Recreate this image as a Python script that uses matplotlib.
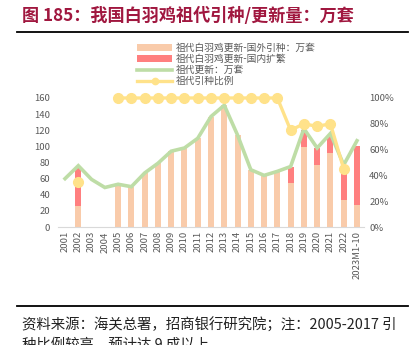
import numpy as np
import matplotlib.pyplot as plt
from matplotlib.lines import Line2D

plt.rcParams['font.family'] = ['Noto Sans CJK SC', 'DejaVu Sans']

# categories and series (万套)
years = ['2001', '2002', '2003', '2004', '2005', '2006', '2007', '2008', '2009',
         '2010', '2011', '2012', '2013', '2014', '2015', '2016', '2017', '2018',
         '2019', '2020', '2021', '2022', '2023M1-10']
imported = [0, 26, 0, 0, 51, 50, 67, 79, 94, 98, 110, 137, 151, 114, 71, 64,
            69, 55, 99, 77, 92, 34, 27]
domestic = [0, 48, 0, 0, 0, 0, 0, 0, 0, 0, 0, 0, 0, 0, 0, 0,
            0, 20, 21, 21, 21, 40, 73]
total = [60, 76, 59, 49, 53, 50, 67, 79, 94, 98, 110, 137, 151, 114, 71, 64,
         69, 75, 122, 98, 116, 77, 107]
ratio = [np.nan, 0.35, np.nan, np.nan, 1, 1, 1, 1, 1, 1, 1, 1, 1, 1, 1, 1,
         1, 0.75, 0.80, 0.78, 0.80, 0.45, np.nan]

c_imp = '#F9CBAA'
c_dom = '#FF7F7F'
c_tot = '#BEDDA6'
c_rat = '#FFE28A'
grey = '#595959'

fig = plt.figure(figsize=(4.19, 3.45), dpi=100)

# title and rules
fig.text(0.052, 0.953, '图 185：我国白羽鸡祖代引种/更新量：万套', color='#A0173F',
         fontsize=12.3, fontweight='bold', va='center', ha='left')
fig.add_artist(Line2D([0.041, 0.974], [0.907, 0.907], color='black', lw=1.3))
fig.add_artist(Line2D([0.041, 0.974], [0.112, 0.112], color='black', lw=1.3))
fig.text(0.052, 0.058, '资料来源：海关总署，招商银行研究院；注：2005-2017 引',
         fontsize=10.4, va='center', ha='left', color='#222222')
fig.text(0.052, 0.0, '种比例较高，预计达 9 成以上', fontsize=10.4, va='center',
         ha='left', color='#222222')

ax = fig.add_axes([0.1394, 0.342, 0.7284, 0.374])
x = np.arange(len(years))
w = 0.45
b1 = ax.bar(x, imported, width=w, color=c_imp, zorder=2)
b2 = ax.bar(x, domestic, width=w, bottom=imported, color=c_dom, zorder=2)
l1, = ax.plot(x, total, color=c_tot, lw=2.6, zorder=3, solid_joinstyle='miter')

ax.set_xlim(-0.5, len(years) - 0.5)
ax.set_ylim(0, 160)
ax.set_yticks(np.arange(0, 161, 20))
ax.set_xticks(x)
ax.set_xticklabels(years, rotation=90)
for s in ['top', 'right', 'left']:
    ax.spines[s].set_visible(False)
ax.spines['bottom'].set_color('#D9D9D9')
ax.tick_params(axis='both', length=0, labelsize=6.8, labelcolor=grey)
ax.tick_params(axis='y', pad=6)
ax.tick_params(axis='x', pad=3)

ax2 = ax.twinx()
ax2.set_ylim(0, 1)
l2, = ax2.plot(x, ratio, color=c_rat, lw=2.4, marker='o', ms=7,
               clip_on=False, zorder=4)
ax2.set_yticks(np.arange(0, 1.01, 0.2))
ax2.set_yticklabels(['0%', '20%', '40%', '60%', '80%', '100%'])
for s in ['top', 'right', 'left', 'bottom']:
    ax2.spines[s].set_visible(False)
ax2.tick_params(axis='y', length=0, labelsize=6.8, labelcolor=grey, pad=4)

fig.legend([b1, b2, l1, l2],
           ['祖代白羽鸡更新-国外引种：万套', '祖代白羽鸡更新-国内扩繁',
            '祖代更新：万套', '祖代引种比例'],
           loc='upper left', bbox_to_anchor=(0.316, 0.889), frameon=False,
           fontsize=7, labelcolor=grey, handlelength=3.6, handleheight=0.7,
           labelspacing=0.1, handletextpad=0.35, borderpad=0, markerscale=0.65)

fig.savefig('out.png', dpi=100)
